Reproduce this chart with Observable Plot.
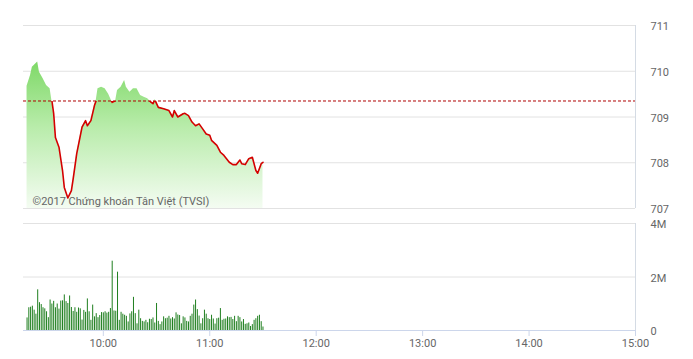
<!DOCTYPE html>
<html><head><meta charset="utf-8">
<script src="https://cdn.jsdelivr.net/npm/d3@7"></script>
<script src="https://cdn.jsdelivr.net/npm/@observablehq/plot@0.6"></script>
<style>body{margin:0;background:#fff;} #chart svg{display:block;overflow:visible;}</style>
</head><body>
<svg width="0" height="0" style="position:absolute">
 <defs>
  <linearGradient id="areaGrad" x1="0" y1="0" x2="0" y2="1">
   <stop offset="0" stop-color="#7fd968"/>
   <stop offset="0.45" stop-color="#b9ecab"/>
   <stop offset="1" stop-color="#f4fcf2"/>
  </linearGradient>
  <linearGradient id="lineGrad" x1="0" y1="0" x2="0" y2="1">
   <stop id="s1" offset="0.5" stop-color="#7fd968" stop-opacity="0"/>
   <stop id="s2" offset="0.5" stop-color="#d40000"/>
  </linearGradient>
 </defs>
</svg>
<div id="chart"></div>
<script>
const priceTimes = ["09:17","09:19","09:20","09:23","09:24","09:26","09:28","09:30","09:31","09:32","09:33","09:35","09:37","09:38","09:40","09:42","09:43","09:45","09:48","09:50","09:51","09:53","09:55","09:56","09:57","09:59","10:01","10:03","10:05","10:07","10:08","10:10","10:12","10:13","10:15","10:17","10:19","10:21","10:23","10:25","10:27","10:28","10:29","10:31","10:34","10:37","10:39","10:40","10:42","10:45","10:46","10:48","10:50","10:52","10:54","10:56","10:58","11:00","11:01","11:04","11:06","11:08","11:11","11:13","11:15","11:17","11:18","11:20","11:22","11:24","11:26","11:27","11:29","11:30"];
const priceValues = [709.67,709.91,710.09,710.20,709.98,709.84,709.69,709.62,709.36,709.08,708.55,708.34,707.83,707.46,707.23,707.39,707.65,708.20,708.78,708.92,708.81,708.92,709.25,709.36,709.62,709.65,709.62,709.50,709.32,709.36,709.58,709.65,709.80,709.65,709.54,709.62,709.62,709.47,709.43,709.40,709.32,709.29,709.38,709.21,709.18,709.14,709.00,709.14,709.00,709.07,709.08,709.03,708.89,708.81,708.85,708.74,708.63,708.60,708.49,708.38,708.23,708.16,708.01,707.96,707.96,708.06,707.98,707.96,708.09,708.12,707.83,707.77,707.98,708.01];
const refPrice = 709.35;
const volumeStart = "09:17";
const volumes = [0.47,0.85,0.87,0.91,0.76,0.61,1.52,1.04,0.97,0.85,
0.81,0.70,0.48,1.14,0.99,1.09,0.85,0.99,0.80,1.10,
1.11,1.33,1.08,1.01,1.29,0.86,0.71,0.85,0.68,0.84,
0.81,0.39,0.75,0.68,1.18,0.70,0.38,0.95,0.51,0.63,
0.48,0.56,0.67,0.66,0.70,0.65,0.68,0.82,2.59,0.73,
0.72,2.18,0.38,0.68,0.61,0.57,0.53,0.32,0.62,0.70,
1.24,0.63,0.25,0.76,0.44,0.34,0.32,0.38,0.29,0.42,
0.41,0.47,0.28,1.01,0.34,0.22,0.32,0.51,0.44,
0.46,0.53,0.43,0.48,0.43,0.66,0.58,0.56,0.25,0.51,0.47,0.34,
0.32,0.53,0.61,0.95,1.14,0.78,0.54,
0.25,0.44,0.76,0.61,0.44,0.41,0.57,0.43,0.24,0.44,
0.46,0.82,0.38,0.42,0.43,0.51,0.48,0.49,0.41,
0.53,0.33,0.53,0.48,0.32,0.41,0.23,0.25,0.28,
0.15,0.22,0.38,0.44,0.53,0.57,0.33,0.13];
const priceTicks = [707,708,709,710,711];
const volumeTicks = [0,2,4];
const timeTicks = ["10:00","11:00","12:00","13:00","14:00","15:00"];
const domainTimes = ["09:15","15:00"];
const copyright = "©2017 Chứng khoán Tân Việt (TVSI)";

const t = s => { const [h,m] = s.split(":").map(Number); return new Date(Date.UTC(2017,0,3,h,m)); };
const priceData = priceTimes.map((s,i) => ({time: t(s), price: priceValues[i]}));
const v0 = t(volumeStart);
const volData = volumes.map((v,i) => ({time: new Date(+v0 + i*60000), vol: v}));

const pMax = d3.max(priceValues), pMin = d3.min(priceValues);
const f = (pMax - refPrice) / (pMax - pMin);
document.getElementById("s1").setAttribute("offset", f);
document.getElementById("s2").setAttribute("offset", f);

const xDomain = domainTimes.map(t);
const common = {width: 693, marginLeft: 23, marginRight: 58,
  style: {fontFamily: "Roboto, 'DejaVu Sans', sans-serif", fontSize: "11px", background: "none"}};

const topPlot = Plot.plot({
  ...common, height: 215, marginTop: 25, marginBottom: 7,
  x: {type: "utc", domain: xDomain, axis: null},
  y: {domain: [707, 711], axis: null},
  marks: [
    Plot.ruleY(priceTicks, {stroke: "#e2e2e2"}),
    Plot.areaY(priceData, {x: "time", y1: 707, y2: "price", fill: "url(#areaGrad)"}),
    Plot.ruleY([refPrice], {stroke: "#b00000", strokeDasharray: "3,2"}),
    Plot.lineY(priceData, {x: "time", y: "price", stroke: "url(#lineGrad)", strokeWidth: 1.6}),
    Plot.ruleX([xDomain[1]], {stroke: "#d4dbe4"}),
    Plot.axisY(priceTicks, {anchor: "right", label: null, tickSize: 0, tickPadding: 15, dy: 1, fill: "#666"}),
    Plot.text([copyright], {frameAnchor: "bottom-left", dx: 9, dy: -4, fill: "#666", fontSize: 11})
  ]
});

const bottomPlot = Plot.plot({
  ...common, height: 144, marginTop: 8, marginBottom: 29,
  x: {type: "utc", domain: xDomain, axis: null},
  y: {domain: [0, 4], axis: null},
  marks: [
    Plot.ruleY([2, 4], {stroke: "#e2e2e2"}),
    Plot.ruleX(volData, {x: "time", y1: 0, y2: "vol", stroke: "#1f7f1f", strokeWidth: 1}),
    Plot.ruleX([xDomain[1]], {stroke: "#d4dbe4"}),
    Plot.ruleY([0], {stroke: "#ccd6eb"}),
    Plot.axisX(timeTicks.map(t), {anchor: "bottom", label: null, tickSize: 6, tickPadding: 3, stroke: "#ccd6eb", fill: "#666", tickFormat: d3.utcFormat("%H:%M")}),
    Plot.axisY(volumeTicks, {anchor: "right", label: null, tickSize: 0, tickPadding: 15, dy: 1, fill: "#666", tickFormat: d => d === 0 ? "0" : d + "M"})
  ]
});

document.getElementById("chart").append(topPlot, bottomPlot);
</script>
</body></html>
